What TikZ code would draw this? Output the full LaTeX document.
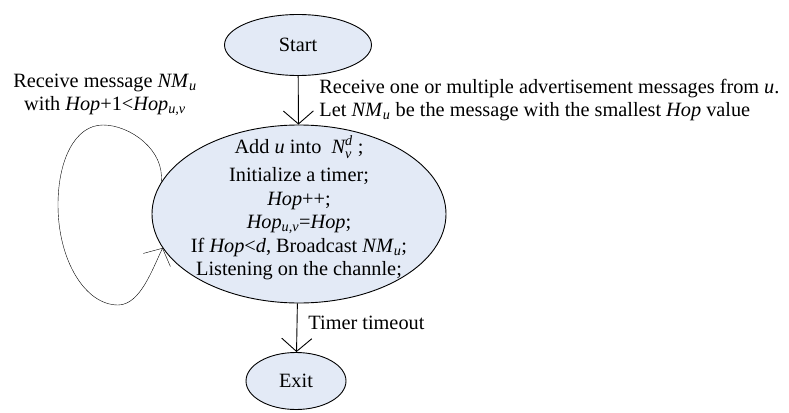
\documentclass[tikz,border=0pt]{standalone}
\usepackage{fontspec}
\setmainfont{Liberation Serif}
\usetikzlibrary{shapes.geometric,arrows.meta,backgrounds}
\definecolor{stateblue}{RGB}{227,234,246}
\newcommand{\NMu}{\textit{NM}\textsubscript{\textit{u}}}
\newcommand{\Hopuv}{\textit{Hop}\textsubscript{\textit{u,v}}}
\newcommand{\Nvd}{$\mathit{N}^{\mathit{d}}_{\mathit{v}}$}

\begin{document}
\begin{tikzpicture}
[x=1pt, y=-1pt, font=\fontsize{20.3}{23.5}\selectfont, line width=0.9pt,
state/.style={ellipse, draw, fill=stateblue, inner sep=0pt},
flow/.style={-{Straight Barb[length=13pt,width=30pt]}},
note/.style={align=left, inner sep=0pt, anchor=west}]

\useasboundingbox (0,0) rectangle (789,412);

\node[state, minimum width=147pt, minimum height=61pt] (start) at (298,45) {Start};
\node[state, minimum width=294pt, minimum height=178pt] (proc) at (299,214) {};
\node[state, minimum width=100pt, minimum height=57pt] (exit) at (296,381) {Exit};

\node[align=center, inner sep=0pt] (proctxt) at (299,208) {Add \textit{u} into\ \ \Nvd\ ;\\[5pt]
  Initialize a timer;\\ \textit{Hop}++;\\ \Hopuv=\textit{Hop};\\
  If \textit{Hop}<\textit{d}, Broadcast \NMu;\\ Listening on the channle;};

\node[align=center, inner sep=0pt] (looplbl) at (105,95) {Receive message \NMu\\ with \textit{Hop}+1<\Hopuv};
\node[note] (recvlbl) at (319,100) {Receive one or multiple advertisement messages from \textit{u}.\\
  Let \NMu\ be the message with the smallest \textit{Hop} value};
\node[note] (timerlbl) at (308,323) {Timer timeout};

\draw[flow] (start) -- (proc);
\draw[flow] (proc) -- (exit);

% self loop behind the ellipse
\begin{scope}[on background layer]
\draw[flow] (proc.167) .. controls (165,150) and (130,125) .. (103,125)
  .. controls (75,125) and (58,160) .. (58,205)
  .. controls (58,260) and (85,305) .. (118,305)
  .. controls (140,305) and (152,270) .. (proc.194);
\end{scope}
\end{tikzpicture}
\end{document}
